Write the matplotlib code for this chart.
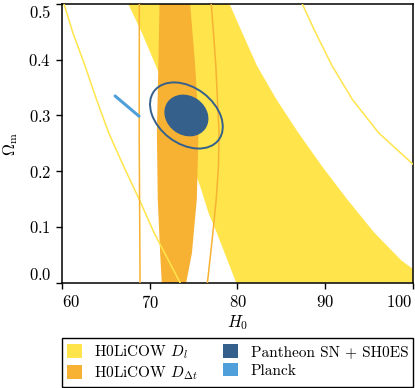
import matplotlib
matplotlib.use('Agg')
import matplotlib.pyplot as plt
from matplotlib.patches import Ellipse, Patch
from matplotlib.transforms import Affine2D

plt.rcParams['font.family'] = 'serif'
plt.rcParams['font.serif'] = ['cmr10']
plt.rcParams['mathtext.fontset'] = 'cm'
plt.rcParams['axes.unicode_minus'] = False
plt.rcParams['axes.formatter.use_mathtext'] = True

# colours
yellow = '#ffe54b'
orange = '#f7b234'
dark_blue = '#36608c'
light_blue = '#4e9fda'

# H0LiCOW D_l, 68% region: left edge top->bottom, right edge bottom->top
dl_left_h0 = [67.54, 69.07, 70.8, 73.3, 75.8, 76.7, 77.65, 79.85]
dl_left_om = [0.5, 0.449, 0.385, 0.28, 0.17, 0.125, 0.089, 0.0]
dl_right_h0 = [100.0, 100.0, 98.7, 95.6, 92.5, 89.6, 86.9, 84.4, 82.2, 80.5, 79.1]
dl_right_om = [0.0, 0.025, 0.04, 0.09, 0.15, 0.21, 0.27, 0.33, 0.39, 0.45, 0.5]

# H0LiCOW D_l, 95% lines
dl_out_left_h0 = [60.2, 61.2, 62.6, 63.9, 65.3, 67.0, 68.8, 70.5, 73.45]
dl_out_left_om = [0.5, 0.449, 0.389, 0.329, 0.269, 0.209, 0.149, 0.089, 0.0]
dl_out_right_h0 = [87.4, 88.9, 90.8, 93.1, 96.1, 100.0]
dl_out_right_om = [0.5, 0.449, 0.389, 0.329, 0.269, 0.213]

# H0LiCOW D_dt, 68% region
dt_h0 = [71.1, 70.97, 70.8, 70.9, 71.17, 71.36, 74.15, 74.8, 75.36, 75.55, 75.4, 75.17, 74.6]
dt_om = [0.5, 0.39, 0.27, 0.15, 0.053, 0.0, 0.0, 0.053, 0.15, 0.27, 0.33, 0.39, 0.5]

# H0LiCOW D_dt, 95% lines
dt_out_left_h0 = [68.8, 68.78, 68.88]
dt_out_left_om = [0.5, 0.27, 0.0]
dt_out_right_h0 = [77.0, 77.26, 77.53, 77.71, 77.9, 77.83, 77.57, 77.19, 76.57]
dt_out_right_om = [0.5, 0.449, 0.389, 0.329, 0.269, 0.209, 0.149, 0.089, 0.0]

# Planck
planck_h0 = [66.03, 68.77]
planck_om = [0.335, 0.2986]

# Pantheon SN + SH0ES: centre, semi-axes (H0 units), tilt
sn_center = [74.17, 0.300]
sn_inner = [2.64, 2.24, -35]
sn_outer = [4.61, 3.19, -37]
om_scale = 63.5  # Omega_m -> H0 units, so the tilt is the one seen on screen

x_ticks = [60, 70, 80, 90, 100]
y_ticks = [0.0, 0.1, 0.2, 0.3, 0.4, 0.5]

fig = plt.figure(figsize=(4.15, 3.88), dpi=100)
ax = fig.add_axes([0.150, 0.2714, 0.8445, 0.7183])

ax.fill(dl_left_h0 + dl_right_h0, dl_left_om + dl_right_om, color=yellow, lw=0, zorder=1)
ax.fill(dt_h0, dt_om, color=orange, lw=0, zorder=2)
ax.plot(dl_out_left_h0, dl_out_left_om, color=yellow, lw=1.1, zorder=3)
ax.plot(dl_out_right_h0, dl_out_right_om, color=yellow, lw=1.1, zorder=3)
ax.plot(dt_out_left_h0, dt_out_left_om, color=orange, lw=1.1, zorder=4)
ax.plot(dt_out_right_h0, dt_out_right_om, color=orange, lw=1.1, zorder=4)
ax.plot(planck_h0, planck_om, color=light_blue, lw=2.2, solid_capstyle='round', zorder=5)

tr = Affine2D().scale(1, 1 / om_scale) + ax.transData
c = (sn_center[0], sn_center[1] * om_scale)
ax.add_patch(Ellipse(c, 2 * sn_inner[0], 2 * sn_inner[1], angle=sn_inner[2],
                     transform=tr, facecolor=dark_blue, edgecolor='none', zorder=6))
ax.add_patch(Ellipse(c, 2 * sn_outer[0], 2 * sn_outer[1], angle=sn_outer[2],
                     transform=tr, facecolor='none', edgecolor=dark_blue, lw=1.4, zorder=6))

ax.set_xlim(60, 100)
ax.set_ylim(0, 0.5)
ax.set_xticks(x_ticks)
ax.set_yticks(y_ticks)
ax.tick_params(labelsize=12, width=1, length=4.5)
for s in ax.spines.values():
    s.set_linewidth(1.1)

# end labels pulled inside, as in the original
xl = ax.get_xticklabels()
xl[0].set_horizontalalignment('left')
xl[-1].set_horizontalalignment('right')
yl = ax.get_yticklabels()
yl[0].set_verticalalignment('bottom')
yl[-1].set_verticalalignment('top')

ax.set_xlabel('$H_0$', fontsize=12, labelpad=2)
ax.set_ylabel(r'$\Omega_{\rm m}$', fontsize=12, labelpad=6)

handles = [Patch(facecolor=yellow, label='H0LiCOW $D_l$'),
           Patch(facecolor=orange, label=r'H0LiCOW $D_{\Delta t}$'),
           Patch(facecolor=dark_blue, label='Pantheon SN + SH0ES'),
           Patch(facecolor=light_blue, label='Planck')]
leg = fig.legend(handles=handles, ncol=2, loc='upper left', mode='expand',
                 bbox_to_anchor=(0.150, 0.0, 0.8445, 0.128), borderaxespad=0,
                 fontsize=11, handlelength=1.0, handleheight=1.0, handletextpad=0.8,
                 fancybox=False, edgecolor='black', framealpha=1,
                 labelspacing=0.25, borderpad=0.3)
leg.get_frame().set_linewidth(1.0)

fig.savefig('out.png', dpi=100)
